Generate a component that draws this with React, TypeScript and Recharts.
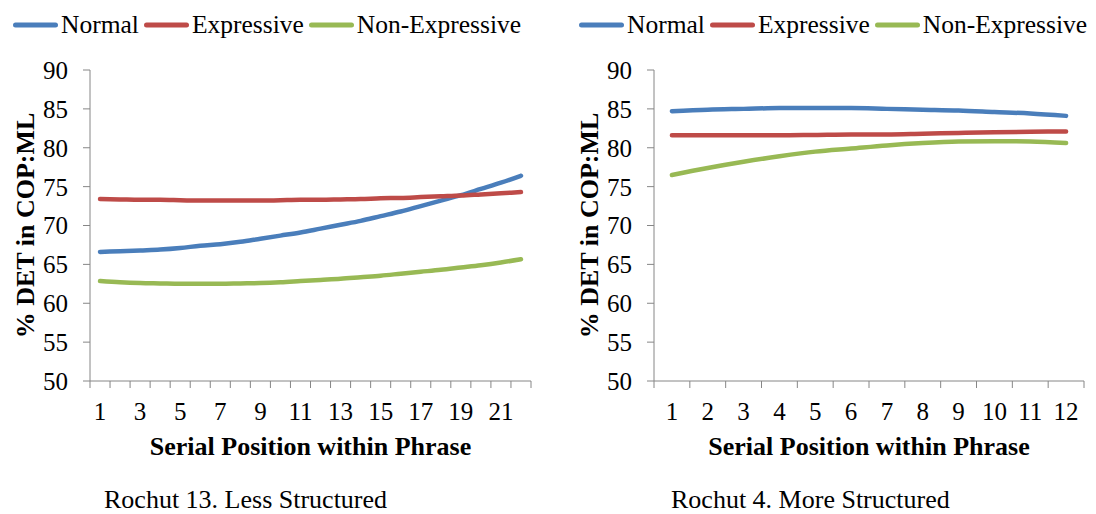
import React from "react";
import { LineChart, Line, XAxis, YAxis } from "recharts";

const FONT = "Liberation Serif";
const AXIS = "#868686";

const SERIES = [
  { key: "normal", name: "Normal", color: "#4A7EBB" },
  { key: "expressive", name: "Expressive", color: "#BE4B48" },
  { key: "nonExpressive", name: "Non-Expressive", color: "#98B954" },
];

const yTicks = [50, 55, 60, 65, 70, 75, 80, 85, 90];

// Rochut 13 (less structured): 22 serial positions
const lessPositions = [1, 2, 3, 4, 5, 6, 7, 8, 9, 10, 11, 12, 13, 14, 15, 16, 17, 18, 19, 20, 21, 22];
const lessNormal = [66.6, 66.7, 66.8, 66.9, 67.1, 67.4, 67.6, 67.9, 68.3, 68.7, 69.1, 69.6, 70.1, 70.6, 71.2, 71.8, 72.5, 73.2, 73.9, 74.7, 75.5, 76.4];
const lessExpressive = [73.4, 73.35, 73.3, 73.3, 73.25, 73.2, 73.2, 73.2, 73.2, 73.25, 73.3, 73.3, 73.35, 73.4, 73.5, 73.55, 73.65, 73.75, 73.85, 74.0, 74.15, 74.3];
const lessNonExpressive = [62.85, 62.7, 62.6, 62.55, 62.5, 62.5, 62.5, 62.55, 62.6, 62.7, 62.85, 63.0, 63.15, 63.35, 63.55, 63.8, 64.05, 64.3, 64.6, 64.9, 65.25, 65.65];
const lessLabels = [1, 3, 5, 7, 9, 11, 13, 15, 17, 19, 21];

// Rochut 4 (more structured): 12 serial positions
const morePositions = [1, 2, 3, 4, 5, 6, 7, 8, 9, 10, 11, 12];
const moreNormal = [84.7, 84.9, 85.0, 85.1, 85.1, 85.1, 85.0, 84.9, 84.8, 84.6, 84.4, 84.1];
const moreExpressive = [81.6, 81.6, 81.6, 81.6, 81.65, 81.7, 81.7, 81.8, 81.9, 82.0, 82.05, 82.1];
const moreNonExpressive = [76.5, 77.4, 78.2, 78.9, 79.5, 79.9, 80.3, 80.6, 80.8, 80.85, 80.8, 80.6];
const moreLabels = [1, 2, 3, 4, 5, 6, 7, 8, 9, 10, 11, 12];

function buildRows(pos: number[], a: number[], b: number[], c: number[]) {
  return pos.map((p, i) => ({ pos: p, normal: a[i], expressive: b[i], nonExpressive: c[i] }));
}

// tick values at category centres and at the boundaries between them
function bandTicks(pos: number[]) {
  const out: number[] = [];
  pos.forEach((p) => {
    out.push(p - 0.5, p);
  });
  out.push(pos[pos.length - 1] + 0.5);
  return out;
}

function BandTick(props: any) {
  const { x, y, payload, labels } = props;
  const v = payload.value;
  if (!Number.isInteger(v)) {
    return <line x1={x} x2={x} y1={y} y2={y + 7} stroke={AXIS} strokeWidth={1} />;
  }
  if (!labels.includes(v)) return <g />;
  return (
    <text x={x} y={y + 39} textAnchor="middle" style={{ fontFamily: FONT }} fontSize={25} fill="#000">
      {v}
    </text>
  );
}

function LegendRow({ left }: { left: number }) {
  return (
    <div
      style={{
        position: "absolute",
        left,
        top: 10,
        display: "flex",
        alignItems: "center",
        fontFamily: FONT,
        fontSize: 25.5,
        color: "#000",
        whiteSpace: "nowrap",
      }}
    >
      {SERIES.map((s) => (
        <div key={s.key} style={{ display: "flex", alignItems: "center", marginRight: 5 }}>
          <svg width={45} height={6}>
            <line x1={2.5} x2={42.5} y1={3} y2={3} stroke={s.color} strokeWidth={5} strokeLinecap="round" />
          </svg>
          <span style={{ marginLeft: 3 }}>{s.name}</span>
        </div>
      ))}
    </div>
  );
}

type PanelProps = {
  rows: any[];
  positions: number[];
  labels: number[];
  caption: string;
  left: number;
  marginLeft: number;
  marginRight: number;
  captionDx: number;
};

function Panel({ rows, positions, labels, caption, left, marginLeft, marginRight, captionDx }: PanelProps) {
  const maxPos = positions[positions.length - 1];
  return (
    <div style={{ position: "absolute", left, top: 0, fontFamily: FONT }}>
      <LineChart
        width={548}
        height={514}
        data={rows}
        style={{ fontFamily: FONT }}
        margin={{ top: 70, right: marginRight, bottom: 73, left: marginLeft }}
      >
        <XAxis
          dataKey="pos"
          type="number"
          domain={[0.5, maxPos + 0.5]}
          ticks={bandTicks(positions)}
          interval={0}
          height={60}
          tickSize={0}
          tickMargin={0}
          tickLine={false}
          axisLine={{ stroke: AXIS, strokeWidth: 1 }}
          tick={<BandTick labels={labels} />}
          label={{
            content: ({ viewBox }: any) => (
              <g style={{ fontFamily: FONT }} fill="#000">
                <text
                  x={viewBox.x + viewBox.width / 2}
                  y={viewBox.y + 74}
                  textAnchor="middle"
                  fontSize={26}
                  fontWeight="bold"
                >
                  Serial Position within Phrase
                </text>
                <text x={viewBox.x + captionDx} y={viewBox.y + 127} fontSize={26}>
                  {caption}
                </text>
              </g>
            ),
          }}
        />
        <YAxis
          type="number"
          domain={[50, 90]}
          ticks={yTicks}
          interval={0}
          width={90}
          tickSize={7}
          tickMargin={15}
          tickLine={{ stroke: AXIS }}
          axisLine={{ stroke: AXIS, strokeWidth: 1 }}
          tick={{ fontSize: 25, fill: "#000", style: { fontFamily: FONT } }}
          label={{
            content: ({ viewBox }: any) => {
              const cx = viewBox.x + 25;
              const cy = viewBox.y + viewBox.height / 2;
              return (
                <text
                  x={cx}
                  y={cy}
                  transform={`rotate(-90 ${cx} ${cy})`}
                  textAnchor="middle"
                  dominantBaseline="central"
                  style={{ fontFamily: FONT }}
                  fontSize={26}
                  fontWeight="bold"
                  fill="#000"
                >
                  % DET in COP:ML
                </text>
              );
            },
          }}
        />
        {SERIES.map((s) => (
          <Line
            key={s.key}
            type="monotone"
            dataKey={s.key}
            name={s.name}
            stroke={s.color}
            strokeWidth={4.5}
            strokeLinecap="round"
            dot={false}
            activeDot={false}
            isAnimationActive={false}
          />
        ))}
      </LineChart>
    </div>
  );
}

export default function App() {
  const lessRows = buildRows(lessPositions, lessNormal, lessExpressive, lessNonExpressive);
  const moreRows = buildRows(morePositions, moreNormal, moreExpressive, moreNonExpressive);
  return (
    <div
      style={{
        position: "absolute",
        left: 0,
        top: 0,
        width: 1096,
        height: 514,
        background: "#fff",
        fontFamily: FONT,
      }}
    >
      <Panel
        rows={lessRows}
        positions={lessPositions}
        labels={lessLabels}
        caption="Rochut 13. Less Structured"
        left={0}
        marginLeft={0}
        marginRight={17}
        captionDx={14}
      />
      <Panel
        rows={moreRows}
        positions={morePositions}
        labels={moreLabels}
        caption="Rochut 4. More Structured"
        left={548}
        marginLeft={16}
        marginRight={12}
        captionDx={17}
      />
      <LegendRow left={13} />
      <LegendRow left={579} />
    </div>
  );
}
